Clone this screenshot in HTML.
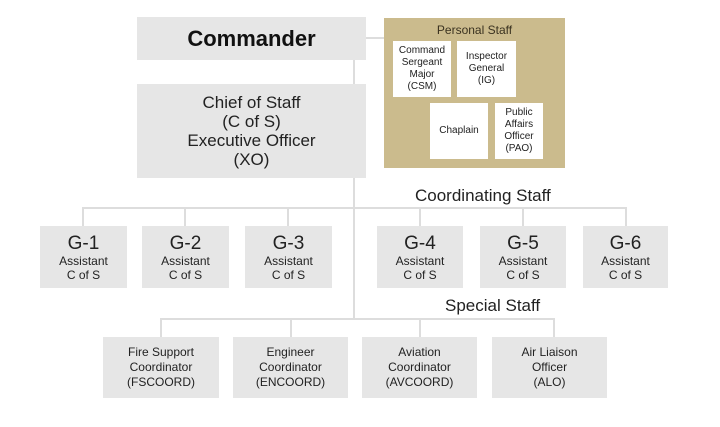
<!DOCTYPE html>
<html><head><style>
body{margin:0;width:720px;height:427px;background:#fff;position:relative;overflow:hidden;font-family:"Liberation Sans",sans-serif;color:#222}
.b{position:absolute;background:#e6e6e6;display:flex;flex-direction:column;align-items:center;justify-content:center;text-align:center}
.w{position:absolute;background:#fff;display:flex;flex-direction:column;align-items:center;justify-content:center;text-align:center;font-size:10px;line-height:12px}
.l{position:absolute;background:#ddd}
.g b{font-weight:normal;font-size:19px;line-height:21px}
.g span{font-size:12px;line-height:14px}
.s{font-size:12px;line-height:15px}
.t{position:absolute;font-size:17px}
</style></head><body>
<div class="l" style="left:353px;top:60px;width:2px;height:260px"></div>
<div class="l" style="left:366px;top:37px;width:18px;height:2px"></div>
<div class="l" style="left:82px;top:207px;width:545px;height:2px"></div>
<div class="l" style="left:160px;top:318px;width:395px;height:2px"></div>
<div class="l" style="left:82px;top:207px;width:2px;height:19px"></div>
<div class="l" style="left:184px;top:207px;width:2px;height:19px"></div>
<div class="l" style="left:287px;top:207px;width:2px;height:19px"></div>
<div class="l" style="left:419px;top:207px;width:2px;height:19px"></div>
<div class="l" style="left:522px;top:207px;width:2px;height:19px"></div>
<div class="l" style="left:625px;top:207px;width:2px;height:19px"></div>
<div class="l" style="left:160px;top:318px;width:2px;height:19px"></div>
<div class="l" style="left:290px;top:318px;width:2px;height:19px"></div>
<div class="l" style="left:419px;top:318px;width:2px;height:19px"></div>
<div class="l" style="left:553px;top:318px;width:2px;height:19px"></div>
<div class="b" style="left:137px;top:17px;width:229px;height:43px;font-weight:bold;font-size:22px;color:#111">Commander</div>
<div class="b" style="left:137px;top:84px;width:229px;height:94px;font-size:17px;line-height:19px">Chief of Staff<br>(C of S)<br>Executive Officer<br>(XO)</div>
<div style="position:absolute;left:384px;top:18px;width:181px;height:150px;background:#cbbb8d"></div>
<div style="position:absolute;left:384px;top:23px;width:181px;text-align:center;font-size:12px;color:#3a3220">Personal Staff</div>
<div class="w" style="left:393px;top:41px;width:58px;height:56px">Command<br>Sergeant<br>Major<br>(CSM)</div>
<div class="w" style="left:457px;top:41px;width:59px;height:56px">Inspector<br>General<br>(IG)</div>
<div class="w" style="left:430px;top:103px;width:58px;height:56px">Chaplain</div>
<div class="w" style="left:495px;top:103px;width:48px;height:56px">Public<br>Affairs<br>Officer<br>(PAO)</div>
<div class="t" style="left:415px;top:186px">Coordinating Staff</div>
<div class="t" style="left:445px;top:296px">Special Staff</div>
<div class="b g" style="left:40px;top:226px;width:87px;height:62px"><b>G-1</b><span>Assistant<br>C of S</span></div>
<div class="b g" style="left:142px;top:226px;width:87px;height:62px"><b>G-2</b><span>Assistant<br>C of S</span></div>
<div class="b g" style="left:245px;top:226px;width:87px;height:62px"><b>G-3</b><span>Assistant<br>C of S</span></div>
<div class="b g" style="left:377px;top:226px;width:86px;height:62px"><b>G-4</b><span>Assistant<br>C of S</span></div>
<div class="b g" style="left:480px;top:226px;width:86px;height:62px"><b>G-5</b><span>Assistant<br>C of S</span></div>
<div class="b g" style="left:583px;top:226px;width:85px;height:62px"><b>G-6</b><span>Assistant<br>C of S</span></div>
<div class="b s" style="left:103px;top:337px;width:116px;height:61px">Fire Support<br>Coordinator<br>(FSCOORD)</div>
<div class="b s" style="left:233px;top:337px;width:115px;height:61px">Engineer<br>Coordinator<br>(ENCOORD)</div>
<div class="b s" style="left:362px;top:337px;width:115px;height:61px">Aviation<br>Coordinator<br>(AVCOORD)</div>
<div class="b s" style="left:492px;top:337px;width:115px;height:61px">Air Liaison<br>Officer<br>(ALO)</div>
</body></html>
